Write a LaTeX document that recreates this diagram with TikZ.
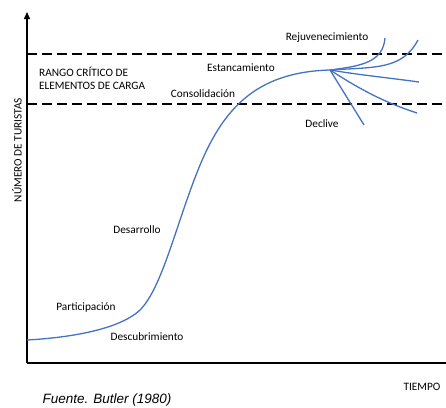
\documentclass[tikz,border=0pt]{standalone}
\usepackage{fontspec}
\setmainfont{Carlito}
\newfontfamily\arialfont{Liberation Sans}
\usetikzlibrary{arrows.meta, positioning, calc}

\definecolor{curveblue}{RGB}{68,114,196}

\begin{document}
\begin{tikzpicture}[x=1pt, y=-1pt,
  every node/.style={font=\fontsize{11.3}{13.5}\selectfont, inner sep=1pt},
  axisline/.style={line width=1.4pt},
  limitline/.style={line width=2.8pt, dash pattern=on 10pt off 5pt},
  lifecurve/.style={draw=curveblue, line width=1.3pt}]
\useasboundingbox (0,0) rectangle (446,407);
% Axes
\coordinate (O) at (27,363);
\coordinate (Ytop) at (27,12);
\coordinate (Xend) at (446,363);
\draw[axisline, -{Triangle[length=7pt, width=6pt]}] (O) -- (Ytop);
\draw[axisline] (O) -- (Xend);
% Critical range of carrying capacity
\coordinate (U1) at (27,54);
\coordinate (U2) at (446,54);
\coordinate (L1) at (27,104);
\coordinate (L2) at (446,104);
\draw[limitline] (U1) -- (U2);
\draw[limitline] (L1) -- (L2);
% Life cycle curve
\coordinate (Peak) at (330,70);
\draw[lifecurve] (27,340) .. controls (80,337) and (122,327) .. (140,310)
  .. controls (162,288) and (176,225) .. (198,170)
  .. controls (222,110) and (255,72) .. (Peak);
% Branches after stagnation
\coordinate (R1) at (385,38);
\coordinate (R2) at (418,40);
\coordinate (S1) at (419,82);
\coordinate (D1) at (417,113);
\coordinate (D2) at (364,125);
\draw[lifecurve] (Peak) .. controls (362,66) and (383,62) .. (R1);
\draw[lifecurve] (Peak) .. controls (375,67) and (402,70) .. (R2);
\draw[lifecurve] (Peak) .. controls (360,75) and (390,78) .. (S1);
\draw[lifecurve] (Peak) .. controls (355,86) and (380,101) .. (D1);
\draw[lifecurve] (Peak) -- (D2);
% Labels
\node (rejuv) at (327,38) {Rejuvenecimiento};
\node (estanc) at (241,68) {Estancamiento};
\node (consol) at (203,94) {Consolidación};
\node (decl) at (322,124) {Declive};
\node (desar) at (137,230) {Desarrollo};
\node (partic) at (86,307) {Participación};
\node (descub) at (147,337) {Descubrimiento};
\node[anchor=west, align=left, inner sep=0pt] (rango) at (39,78.5) {RANGO CRÍTICO DE\\ELEMENTOS DE CARGA};
\node[rotate=90] (ylab) at (17,150) {NÚMERO DE TURISTAS};
\node (xlab) at (422,387) {TIEMPO};
\node[font=\arialfont\itshape\fontsize{13.5}{16}\selectfont] (fuente) at (107,400) {Fuente. Butler (1980)};
\end{tikzpicture}
\end{document}
